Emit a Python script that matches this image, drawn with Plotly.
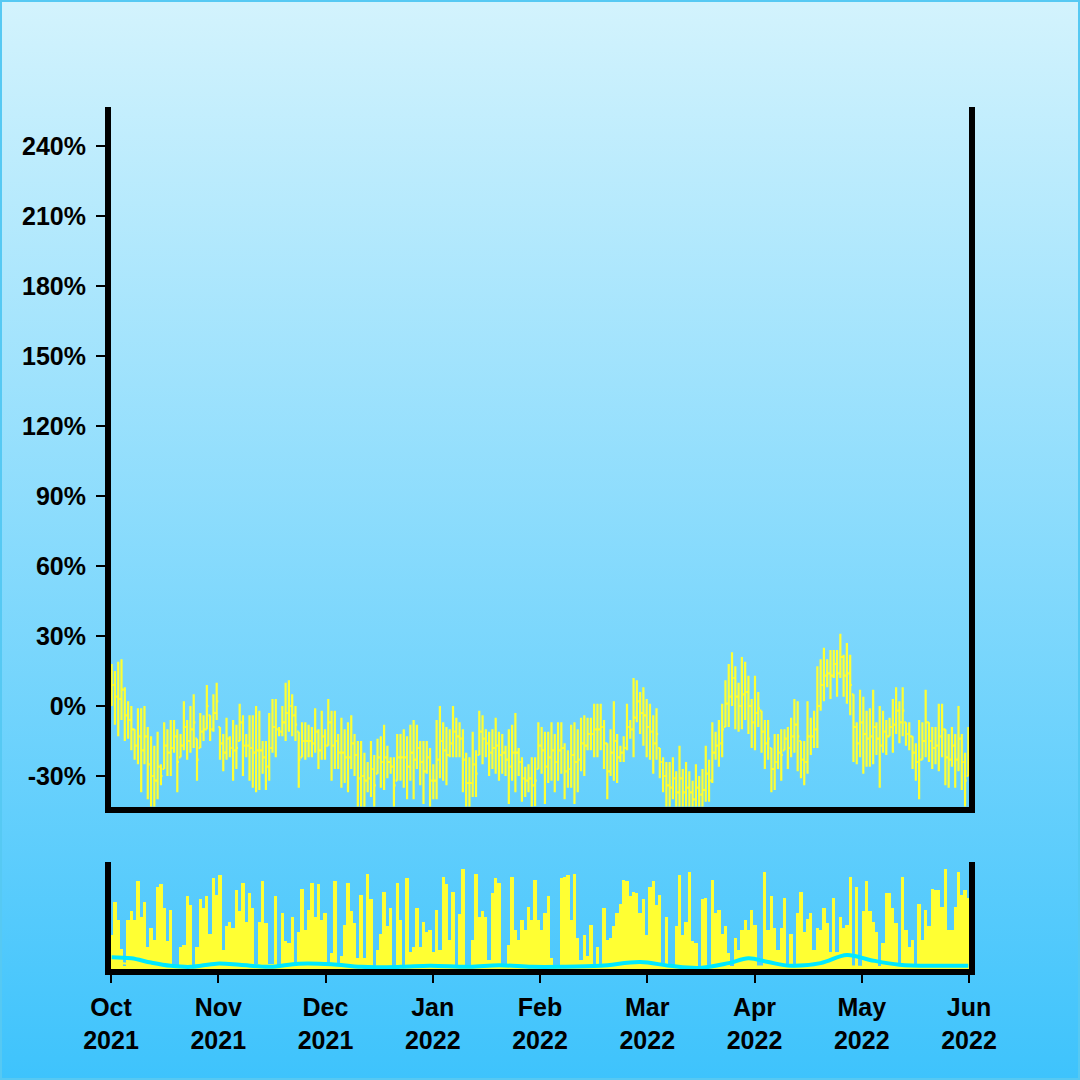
import base64
import plotly.graph_objects as go

# ---------------- data (percent values) ----------------
open_pct = [
    5, 9, 4, 3, 7, -4, -6, -10, -17, -13,
    -19, -13, -25, -30, -32, -26, -27, -17, -20, -18,
    -13, -22, -17, -9, -15, -10, -14, -18, -11, -10,
    -4, -10, -3,
    -9, -16, -20, -14, -18, -19, -15, -7, -17, -17,
    -18, -20, -19, -19, -22, -26, -18, -9, -10, -11,
    -7, -3, 0, -4, -11, -22, -15, -15, -15, -16,
    -11, -19, -13, -17, -7, -17, -15, -20, -20, -22,
    -22, -16, -21, -31, -30, -32, -31, -27, -29, -22,
    -24, -22, -24, -26, -32,
    -22, -22, -22, -26, -20, -23, -18, -24, -28, -22,
    -32, -32, -23, -15, -19, -21, -16, -11, -13, -14,
    -23, -33, -33, -25, -21, -11, -14, -16, -20, -18,
    -17, -21, -20, -23, -26, -20, -20, -24, -31, -32,
    -31, -34, -27, -17, -19, -26, -22, -19, -24, -19,
    -18, -28, -27, -21, -24, -23, -16, -17, -12, -12,
    -10, -10, -9, -16, -28, -20, -15, -22, -20, -18,
    -9, -10, -5, 2, -3, -4, -9, -11, -16, -18,
    -24, -30, -34, -35, -31, -37, -31, -37, -35, -37,
    -40, -35, -38,
    -36, -29, -32, -20, -17, -16, -9, 1, 4, 12,
    4, 0, 5, 6, 0, -7, -3, -2, -11, -16,
    -18, -27, -24, -20, -19, -14, -18, -13, -8, -15,
    -23, -24, -13, -13, -10, 0, 9, 13, 14, 13,
    18, 14, 21, 13, 14,
    5, -9, -16, -7, -12, -14, -13, -9, -14, -17,
    -11, -13, -9, -8, -2, -7, -7, -12, -13, -20,
    -24, -23, -15, -7, -15, -18, -17, -13, -10, -22,
    -23, -17, -23, -14, -24, -30,
]

high_pct = [
    18, 15, 19, 20, 8, 2, 0, -10, -1, -1,
    0, -9, -13, -17, -11, -25, -7, -10, -6, -6,
    -10, -12, 2, -6, 0, 5, -14, -3, -4, 9,
    -4, 5, 10,
    -9, -12, -5, -13, -6, -8, 1, -4, -12, -4,
    -4, 0, -2, -15, -15, -3, 3, 3, -9, 0,
    10, 11, 5, 0, -11, -7, -7, -8, -9, -1,
    -10, -2, -10, 3, -2, -2, -12, -5, -10, -7,
    -4, -12, -15, -15, -20, -24, -15, -21, -14, -13,
    -8, -17, -22, -22, -12,
    -12, -10, -13, -8, -6, -8, -15, -15, -15, -18,
    -25, -6, 0, -7, -9, -10, 0, -5, -7, -10,
    -20, -22, -11, -19, -2, -4, -10, -11, -10, -5,
    -11, -12, -17, -10, -8, -3, -18, -22, -26, -25,
    -22, -22, -7, -9, -11, -11, -7, -12, -7, -7,
    -16, -19, -8, -7, -10, -5, -4, -5, -5, 1,
    1, 1, -6, -16, -10, 2, -12, -17, -13, 1,
    -6, 12, 11, 6, 8, 3, 1, -4, -1, -18,
    -22, -24, -24, -22, -28, -17, -27, -24, -28, -32,
    -25, -30, -27,
    -17, -23, -7, -11, -6, 1, 11, 18, 23, 17,
    10, 21, 19, 13, 3, 13, 6, -2, -6, -6,
    -18, -12, -12, -10, -10, -9, -5, 3, 2, -15,
    -15, 2, -5, -2, 17, 20, 25, 20, 24, 24,
    24, 31, 22, 27, 22,
    5, -7, 7, 4, -2, -1, 7, -7, 0, -2,
    -6, -5, 3, 8, 2, 8, -7, -7, -13, -16,
    -6, -7, 7, -7, -9, -9, 1, 1, -10, -12,
    -9, -12, 0, -12, -20, -9,
]

low_pct = [
    0, -8, -13, -6, -15, -14, -19, -23, -25, -37,
    -25, -40, -46, -46, -40, -34, -27, -30, -30, -20,
    -37, -22, -19, -23, -20, -18, -32, -18, -15, -10,
    -15, -11, -6,
    -23, -28, -23, -22, -32, -27, -15, -30, -22, -32,
    -35, -37, -36, -29, -36, -32, -20, -22, -13, -13,
    -15, -11, -13, -15, -35, -22, -23, -22, -22, -20,
    -27, -23, -23, -17, -32, -27, -27, -35, -33, -37,
    -27, -30, -46, -45, -44, -37, -39, -47, -29, -35,
    -36, -31, -29, -46, -32,
    -32, -35, -40, -32, -40, -27, -34, -42, -29, -46,
    -40, -40, -31, -32, -34, -22, -22, -22, -22, -37,
    -46, -45, -39, -39, -21, -25, -22, -30, -27, -29,
    -32, -29, -30, -42, -32, -37, -30, -41, -39, -37,
    -46, -43, -27, -29, -42, -33, -32, -37, -32, -29,
    -40, -35, -35, -42, -37, -28, -30, -19, -19, -22,
    -22, -19, -27, -40, -30, -32, -33, -24, -24, -19,
    -14, -22, -7, -12, -17, -22, -23, -29, -23, -31,
    -37, -45, -46, -40, -47, -45, -48, -46, -47, -48,
    -46, -47, -46,
    -41, -41, -33, -23, -26, -22, -9, -9, 0, -10,
    -11, -10, -6, -12, -18, -19, -9, -20, -27, -23,
    -37, -36, -27, -32, -19, -27, -22, -20, -28, -31,
    -34, -29, -21, -18, -18, -2, 2, 8, 3, 12,
    4, 12, 4, 1, -4,
    -24, -25, -22, -29, -26, -26, -25, -21, -35, -20,
    -21, -13, -20, -12, -16, -13, -17, -19, -27, -32,
    -40, -23, -22, -24, -27, -25, -28, -22, -34, -35,
    -26, -35, -28, -36, -45, -30,
]

close_pct = [
    9, 4, 3, 7, -4, -6, -10, -17, -13, -19,
    -13, -25, -30, -32, -26, -30, -17, -20, -18, -13,
    -24, -17, -9, -15, -10, -7, -23, -11, -10, 0,
    -10, -3, 2,
    -16, -20, -14, -18, -19, -18, -7, -17, -17, -18,
    -20, -19, -19, -22, -26, -18, -9, -10, -11, -7,
    -3, 0, -4, -8, -23, -15, -15, -15, -16, -11,
    -19, -13, -17, -7, -17, -15, -20, -20, -22, -22,
    -16, -21, -31, -30, -32, -31, -27, -34, -22, -24,
    -22, -24, -26, -34, -22,
    -22, -22, -26, -20, -23, -18, -24, -28, -22, -32,
    -32, -23, -15, -19, -21, -16, -11, -13, -14, -23,
    -33, -33, -25, -29, -11, -14, -16, -20, -18, -17,
    -21, -20, -23, -26, -20, -20, -24, -31, -32, -31,
    -34, -32, -17, -19, -26, -22, -19, -24, -19, -18,
    -28, -27, -21, -24, -23, -16, -17, -12, -12, -10,
    -10, -9, -16, -28, -20, -15, -22, -20, -18, -9,
    -10, -5, 2, -3, -4, -9, -11, -16, -12, -24,
    -30, -34, -35, -31, -37, -31, -37, -35, -37, -40,
    -35, -38, -36,
    -29, -32, -20, -17, -16, -10, 1, 4, 12, 4,
    0, 5, 6, 0, -7, -3, -1, -11, -16, -14,
    -27, -24, -20, -21, -14, -18, -13, -8, -13, -23,
    -24, -13, -13, -10, 0, 9, 13, 14, 13, 18,
    14, 21, 13, 14, 9,
    -9, -16, -7, -12, -14, -13, -9, -14, -17, -11,
    -13, -9, -8, -2, -7, -2, -12, -13, -20, -24,
    -23, -15, -7, -15, -18, -17, -13, -10, -22, -23,
    -17, -23, -14, -24, -32, -20,
]

volume = [
    32, 63, 46, 19, 3, 46, 54, 46, 82, 49,
    63, 21, 38, 27, 77, 79, 57, 26, 55, 3,
    3, 21, 22, 68, 60, 3, 21, 65, 57, 68,
    33, 85, 69, 88, 18, 40, 44, 38, 74, 54,
    80, 44, 71, 57, 5, 44, 82, 43, 5, 5,
    68, 3, 52, 26, 24, 49, 3, 35, 75, 36,
    55, 80, 49, 79, 46, 52, 3, 15, 82, 3,
    12, 41, 80, 54, 43, 10, 69, 10, 89, 65,
    3, 18, 33, 72, 40, 57, 3, 80,
    46, 3, 85, 16, 21, 57, 21, 44, 35, 36,
    16, 55, 18, 86, 79, 27, 72, 3, 51, 93,
    3, 3, 27, 89, 49, 54, 49, 8, 71, 85,
    80, 3, 3, 22, 86, 36, 27, 46, 36, 58,
    46, 83, 46, 36, 52, 68, 10, 3, 3, 85,
    86, 88, 46, 89, 29, 8, 32, 12, 41, 3,
    21, 3, 57, 27, 29, 40, 52, 61, 83, 82,
    68, 72, 71, 52, 65, 32, 77, 82, 60, 69,
    3, 49, 3, 3, 40, 88, 32, 44, 91, 26,
    24, 3, 65,
    66, 3, 83, 52, 55, 33, 40, 15, 3, 29,
    18, 36, 46, 36, 55, 41, 3, 3, 91, 36,
    68, 38, 18, 38, 66, 3, 33, 3, 52, 72,
    35, 47, 52, 18, 38, 36, 57, 43, 16, 66,
    16, 49, 38, 41, 86, 3, 77, 3, 54, 82,
    54, 44, 35, 3, 24, 71, 71, 57, 43, 3,
    86, 36, 21, 27, 3, 61, 27, 55, 40, 75,
    74, 74, 58, 93, 36, 36, 58, 91, 69, 74,
    66,
]

# volume averages (sampled at bar indices)
avg_idx = [0, 6, 12, 18, 24, 32, 39, 48, 57, 67, 76, 88, 97, 109, 118, 128,
           137, 149, 161, 170, 179, 188, 194, 200, 207, 216, 224, 231, 240, 252, 261]
avg_fast = [11, 10, 6, 3, 2, 5, 4, 2, 5, 4.5, 2, 2, 3, 2, 3.5, 2,
            2, 3, 6.5, 3, 1, 5.5, 10, 6.5, 3, 5.5, 13, 8.5, 4, 3, 3]
slow_idx = [0, 8, 15, 25, 60, 120, 180, 192, 198, 205, 215, 224, 235, 261]
avg_slow = [6, 4, 1.5, 0.8, 0.8, 0.8, 0.8, 2.2, 2.4, 1.2, 1.5, 2.5, 1.2, 0.8]

x_tick_labels = ["Oct<br>2021", "Nov<br>2021", "Dec<br>2021", "Jan<br>2022",
                 "Feb<br>2022", "Mar<br>2022", "Apr<br>2022", "May<br>2022",
                 "Jun<br>2022"]
y_tick_pct = [-30, 0, 30, 60, 90, 120, 150, 180, 210, 240]

N = len(close_pct)
assert len(open_pct) == N and len(high_pct) == N and len(low_pct) == N, \
    (len(open_pct), len(high_pct), len(low_pct), N)
assert len(volume) == N, (len(volume), N)

# ---------------- layout constants ----------------
W, H = 1080, 1080
ML, MR, MT, MB = 111, 111, 107, 111
PW, PH = W - ML - MR, H - MT - MB
YEL = "#ffff33"
CYAN = "#00e8ff"
FONT = "Liberation Sans, Arial, Helvetica, sans-serif"

x = list(range(N))
xr = [-0.2, N - 0.8]
span = xr[1] - xr[0]
tickvals = [xr[0] + span * k / (len(x_tick_labels) - 1) for k in range(len(x_tick_labels))]
tickvals[0] += 1e-6
tickvals[-1] -= 1e-6

fig = go.Figure()

fig.add_trace(go.Ohlc(
    x=x,
    open=[v / 100 for v in open_pct],
    high=[v / 100 for v in high_pct],
    low=[v / 100 for v in low_pct],
    close=[v / 100 for v in close_pct],
    increasing=dict(line=dict(color=YEL, width=2.2)),
    decreasing=dict(line=dict(color=YEL, width=2.2)),
    tickwidth=0.5,
    xaxis="x", yaxis="y",
    showlegend=False, hoverinfo="skip",
))

fig.add_trace(go.Bar(
    x=x, y=volume, width=1.0,
    marker=dict(color=YEL, line=dict(width=0)),
    xaxis="x2", yaxis="y2", showlegend=False, hoverinfo="skip",
))

fig.add_trace(go.Scatter(
    x=slow_idx, y=avg_slow, mode="lines",
    line=dict(color=YEL, width=2, shape="spline"),
    xaxis="x2", yaxis="y2", showlegend=False, hoverinfo="skip",
))
fig.add_trace(go.Scatter(
    x=avg_idx, y=avg_fast, mode="lines",
    line=dict(color=CYAN, width=4, shape="spline"),
    xaxis="x2", yaxis="y2", showlegend=False, hoverinfo="skip",
))

vol_top = (969 - 862) / PH
main_bottom = (969 - 806.5) / PH

axis_line = dict(showline=True, linecolor="black", linewidth=6,
                 showgrid=False, zeroline=False)

svg = ('<svg xmlns="http://www.w3.org/2000/svg" width="1080" height="1080">'
       '<defs><linearGradient id="g" x1="0" y1="0" x2="0" y2="1">'
       '<stop offset="0" stop-color="#d3f3fd"/>'
       '<stop offset="1" stop-color="#3ec3fc"/>'
       '</linearGradient></defs>'
       '<rect width="1080" height="1080" fill="url(#g)"/></svg>')
src = "data:image/svg+xml;base64," + base64.b64encode(svg.encode()).decode()

tick_font = dict(family=FONT, size=25, color="black", weight="bold")

fig.update_layout(
    width=W, height=H,
    margin=dict(l=ML, r=MR, t=MT, b=MB, pad=0),
    paper_bgcolor="#8ad9f9",
    plot_bgcolor="rgba(0,0,0,0)",
    font=dict(family=FONT, color="black", size=25),
    bargap=0,
    showlegend=False,
    xaxis=dict(domain=[0, 1], anchor="y", range=xr, **axis_line,
               showticklabels=False, ticks="",
               rangeslider=dict(visible=False)),
    yaxis=dict(domain=[main_bottom, 1], anchor="x",
               range=[-0.4307, 2.567], **axis_line, mirror=True,
               tickvals=[v / 100 for v in y_tick_pct],
               ticktext=[f"{v}%" for v in y_tick_pct],
               ticks="outside", ticklen=9, tickwidth=2, tickcolor="black",
               ticklabelstandoff=5, tickfont=tick_font),
    xaxis2=dict(domain=[0, 1], anchor="y2", range=xr, **axis_line,
                tickvals=tickvals, ticktext=x_tick_labels,
                ticks="outside", ticklen=8, tickwidth=2, tickcolor="black",
                ticklabelstandoff=3, tickfont=tick_font),
    yaxis2=dict(domain=[0, vol_top], anchor="x2", range=[0, 100],
                **axis_line, mirror=True, showticklabels=False, ticks=""),
    images=[dict(source=src, xref="paper", yref="paper",
                 x=-ML / PW, y=1 + MT / PH, sizex=W / PW, sizey=H / PH,
                 xanchor="left", yanchor="top", sizing="stretch",
                 layer="below")],
    shapes=[dict(type="rect", xref="paper", yref="paper",
                 x0=-ML / PW + 1 / PW, x1=1 + MR / PW - 1 / PW,
                 y0=-MB / PH + 1 / PH, y1=1 + MT / PH - 1 / PH,
                 line=dict(color="#56c9f3", width=2), layer="above")],
)

fig.write_html(
    "out.html",
    config={"displayModeBar": False},
    post_script="document.body.style.margin='0';document.body.style.padding='0';"
                "document.body.style.overflow='hidden';",
)
